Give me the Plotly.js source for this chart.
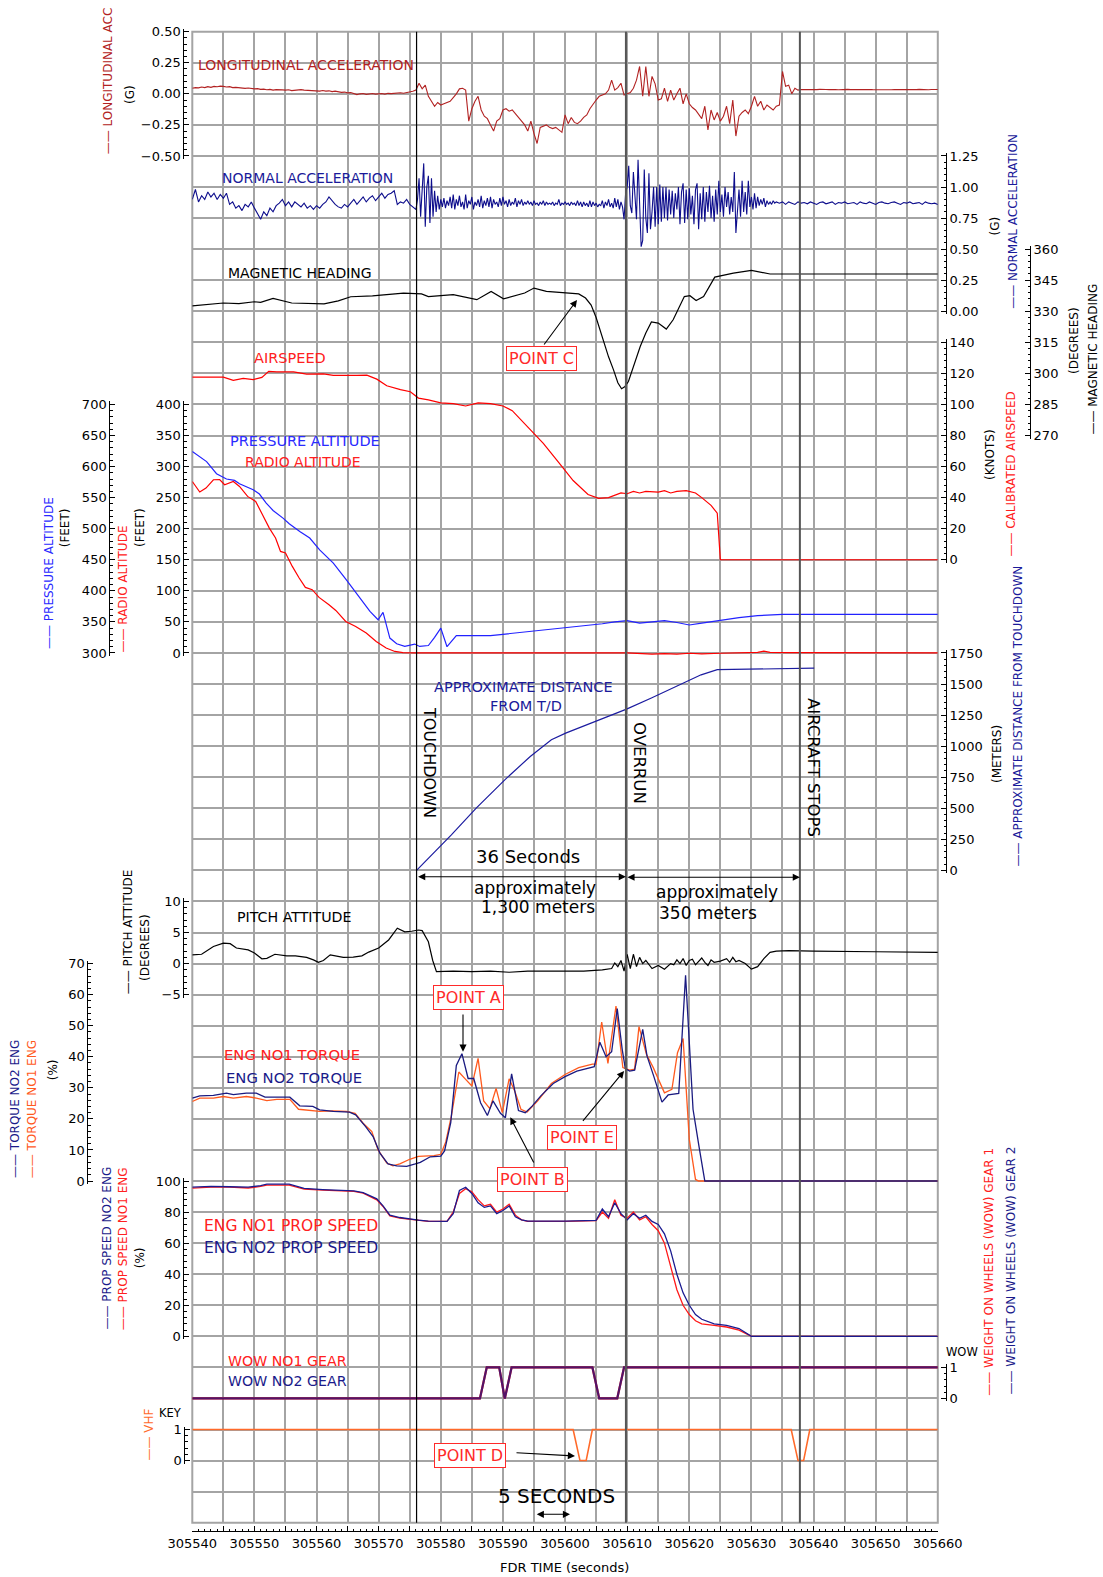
<!DOCTYPE html>
<html><head><meta charset="utf-8">
<script src="https://cdn.plot.ly/plotly-3.0.1.min.js"></script>
<style>html,body{margin:0;padding:0;background:#fff}#chart{width:1103px;height:1577px}</style>
</head><body><div id="chart"></div>
<script>
// ---------------- DATA ----------------
const fdrStart = 305540, fdrEnd = 305660;
const eventTimes = [305576.1, 305609.8, 305637.8]; // touchdown, overrun, aircraft stops
const fiveSecArrow = [305595.2, 305600.8];

// Longitudinal acceleration (G), sampled every 0.5 s from 305540
const longAccStep = 0.5;
const longAccV = [
0.045,0.05,0.048,0.055,0.05,0.058,0.052,0.06,0.057,0.062,
0.06,0.055,0.058,0.05,0.052,0.048,0.05,0.044,0.047,0.042,
0.04,0.042,0.036,0.038,0.033,0.036,0.03,0.034,0.03,0.032,
0.03,0.033,0.026,0.03,0.028,0.034,0.03,0.028,0.025,0.028,
0.026,0.022,0.027,0.022,0.024,0.018,0.022,0.017,0.012,0.014,
0.008,0.01,0,-0.006,0,0.003,-0.004,0,0.003,-0.002,
0,0.003,-0.002,0.004,0.002,0.006,0.004,0.009,0.005,0.01,
0.012,0.02,0.03,0.085,0.04,0.07,-0.02,-0.06,-0.1,-0.07,
-0.09,-0.08,-0.07,-0.06,-0.03,0,0.04,0.045,0.03,-0.22,
-0.12,-0.06,-0.02,-0.13,-0.18,-0.2,-0.25,-0.3,-0.22,-0.2,
-0.13,-0.12,-0.14,-0.13,-0.16,-0.19,-0.22,-0.25,-0.3,-0.22,
-0.32,-0.4,-0.27,-0.26,-0.25,-0.27,-0.28,-0.27,-0.29,-0.31,
-0.17,-0.24,-0.19,-0.23,-0.24,-0.22,-0.19,-0.17,-0.12,-0.08,
-0.05,-0.02,-0.01,0,0.03,0.11,0.03,0.05,0.085,-0.01,
0,0.01,0.045,0.11,0.22,-0.02,0.22,-0.02,0.14,0.08,
-0.05,-0.04,0.045,-0.06,0.03,-0.05,0,0.045,-0.08,0,
-0.08,-0.11,-0.13,-0.17,-0.2,-0.1,-0.29,-0.13,-0.21,-0.15,
-0.22,-0.18,-0.1,-0.24,-0.05,-0.34,-0.18,-0.15,-0.13,-0.16,
-0.1,-0.02,-0.1,-0.06,-0.13,-0.09,-0.11,-0.13,-0.1,-0.09,
0.18,0.06,0.07,0,0.045,0.03,0.035,0.034,0.036,0.034,
0.035,0.034,0.036,0.033,0.035,0.034,0.036,0.035,0.033,0.035,
0.034,0.036,0.034,0.035,0.033,0.035,0.036,0.034,0.035,0.034,
0.033,0.035,0.036,0.034,0.035,0.033,0.034,0.036,0.035,0.034,
0.035,0.033,0.035,0.034,0.036,0.034,0.035,0.033,0.035,0.034,
0.035];

// Normal acceleration (G): segment A 0.5 s from 305540, B 0.25 s from 305576, C 0.5 s from 305634.5
const nAccAStart = 305540, nAccAStep = 0.5;
const nAccA = [
0.9,0.98,0.88,0.93,0.9,0.96,0.92,0.95,0.9,0.94,
0.91,0.95,0.86,0.88,0.83,0.85,0.81,0.86,0.84,0.88,
0.83,0.79,0.74,0.8,0.77,0.83,0.8,0.85,0.87,0.9,
0.85,0.88,0.84,0.88,0.86,0.84,0.87,0.83,0.85,0.82,
0.85,0.83,0.86,0.88,0.92,0.89,0.86,0.84,0.83,0.86,
0.84,0.87,0.9,0.86,0.89,0.92,0.88,0.91,0.93,0.89,
0.92,0.95,0.91,0.94,0.95,0.97,0.86,0.88,0.87,0.9,
0.86,0.84];
const nAccBStart = 305576, nAccBStep = 0.25;
const nAccB = [
0.82,0.9,1.07,0.76, 0.95,1.19,0.68,1.0, 1.09,0.71,1.07,0.76, 0.97,0.8,0.93,0.82,
0.9,0.84,0.91,0.83, 0.89,0.85,0.92,0.83, 0.94,0.82,0.9,0.85, 0.93,0.84,0.88,0.82,
0.94,0.83,0.89,0.86, 0.92,0.82,0.88,0.85, 0.9,0.84,0.93,0.83, 0.89,0.85,0.91,0.84,
0.92,0.83,0.9,0.86, 0.88,0.84,0.91,0.85, 0.92,0.86,0.89,0.84, 0.9,0.85,0.88,0.86,
0.91,0.84,0.89,0.86, 0.9,0.85,0.88,0.86, 0.89,0.86,0.88,0.85, 0.89,0.86,0.87,0.85,
0.88,0.86,0.89,0.85, 0.88,0.86,0.87,0.86, 0.88,0.85,0.87,0.86, 0.9,0.85,0.87,0.86,
0.88,0.86,0.87,0.85, 0.88,0.86,0.87,0.85, 0.89,0.85,0.88,0.84, 0.88,0.85,0.87,0.84,
0.89,0.84,0.88,0.85, 0.87,0.84,0.86,0.85, 0.89,0.83,0.88,0.85, 0.9,0.84,0.87,0.83,
0.91,0.84,0.9,0.82, 0.88,0.84,0.74,0.95, 1.0,1.17,0.85,0.79, 1.12,0.95,0.74,1.22,
0.9,0.52,0.57,1.14, 0.75,0.63,1.11,0.66, 0.8,1.0,0.68,1.0, 0.7,1.02,0.72,1.0,
0.75,1.0,0.73,0.98, 0.78,0.97,0.75,0.95, 0.82,1.0,0.7,0.96, 1.03,0.71,0.98,0.74,
0.99,0.78,0.93,0.7, 0.98,1.03,0.66,0.95, 0.74,1.0,0.72,0.96, 0.8,1.01,0.75,0.93,
0.72,0.98,0.78,1.05, 0.8,0.94,0.76,1.0, 0.84,0.96,0.78,0.92, 0.8,1.12,0.63,0.82,
0.98,0.76,1.05,0.8, 0.96,0.78,1.05,0.84, 0.92,0.82,0.95,0.83, 0.92,0.85,0.9,0.86,
0.91,0.84,0.89,0.86, 0.88,0.86,0.89,0.87, 0.88];
const nAccCStart = 305634.5, nAccCStep = 0.5;
const nAccC = [
0.87,0.88,0.86,0.88,0.87,0.86,0.88,0.87,0.875,0.865,
0.88,0.87,0.86,0.875,0.88,0.865,0.87,0.88,0.86,0.875,
0.87,0.88,0.865,0.87,0.875,0.86,0.88,0.87,0.865,0.88,
0.87,0.86,0.875,0.88,0.87,0.865,0.875,0.88,0.87,0.86,
0.875,0.87,0.88,0.865,0.87,0.875,0.86,0.88,0.87,0.865,
0.87,0.86];

// Magnetic heading (degrees)
const headT = [305540,305542,305545,305547.5,305550,305551,305553,305556,305561.2,305563.5,305565.5,305569,305572,305574,305576.9,305578,305582,305585.8,305588.1,305590.1,305593.5,305595,305597,305600,305602.2,305603.3,305604.2,305605,305606.1,305607,305607.8,305608.5,305609.1,305609.6,305610.2,305611,305612.1,305613,305613.9,305615,305616.3,305617.4,305618.3,305619.2,305620.1,305621.1,305622.3,305623.2,305624.1,305627.1,305630,305633,305660];
const headV = [332.6,333.3,334,333.7,334.6,334.3,336.2,334,333.6,335,337,337.4,338.2,338.8,338.4,337.1,338,335.6,339.6,336,338.8,341.2,339.6,339.1,338.4,336.4,333,327,316.2,308,301.7,295.5,292.6,293.5,296.1,303.5,313,319.5,324.8,324.3,321.4,325.9,331.5,337.1,337.5,335.2,337.1,342,346.5,348.4,349.7,348,348];

// Calibrated airspeed (knots)
const asT = [305540,305542,305543.4,305545,305546.6,305548.2,305549.8,305551.2,305552.3,305553.6,305556.3,305558.4,305561.1,305562.7,305566.5,305568.1,305569.7,305571.3,305573.5,305575.1,305576.4,305578,305580,305582,305584,305586,305588,305590,305591.5,305593.2,305595,305596.5,305598.9,305601.3,305603.7,305605.4,305607,305609,305610,305611,305612,305613,305615,305616,305617,305618,305619.5,305621,305622,305623.5,305624.5,305625,305660];
const asV = [117.6,117.6,118,117.6,115.5,116.8,116,117.4,121.3,121,121,119.5,119.7,118.7,118.7,118.9,116.3,112,109.5,108.2,104.1,103,101,100.5,99,101,100.5,99,96,89,81,75,63,51,42,39.5,40,43,42.5,44,43,44,43.5,44.5,43,44,44.5,43,40,35,30,0,0];

// Pressure altitude (feet)
const paT = [305540,305542.3,305543.9,305545.5,305546.8,305547.6,305549.8,305550.8,305551.9,305553,305554.6,305555.6,305557.3,305558.9,305560.5,305562.7,305564.8,305566.4,305567.5,305568.6,305569.9,305570.7,305571.8,305572.9,305574.2,305575.8,305576.6,305578,305579,305580,305581,305582.5,305585,305588,305590,305592,305595,305598,305600,305603,305606,305608,305610,305612,305614,305616,305618,305620,305622,305625,305628,305631,305635,305660];
const paV = [624.4,608,588.5,580,577.7,572.4,562.7,555.8,541.3,529.4,517,508,495.6,485,466,444.7,417.8,396.4,380.3,366.8,353.4,365.2,324,314.8,310.5,314.3,310.5,312,325,340,310,328,328,328,330,332,335,338,340,343,347,350,352,348,350,352,349,345,348,353,357,360,362,362];

// Radio altitude (feet)
const raT = [305540,305541.2,305542.2,305543.4,305544.4,305545.2,305546.6,305547.6,305548.9,305550.2,305551.3,305552.4,305553.4,305554.2,305555,305556.1,305557.2,305558.2,305559.3,305560.4,305562,305563.1,305564.7,305566.3,305568,305569.6,305571.2,305572.6,305573.9,305576,305610,305612,305614,305616,305618,305620,305622,305625,305628,305631,305632,305633,305636,305645,305650,305655,305660];
const raV = [276,259,265.4,278.8,279,270.8,276,268,252,243.9,222.5,201,185,163.4,160.8,139.3,120.6,105.5,101.8,89.4,77.6,68.4,50.7,42.7,32,18.5,7.9,2.4,0.5,0,0,-1.5,-2,-1,-2,-0.5,-1.5,-0.5,0,1,3,1,0.5,0.5,0,0.5,0];

// Approximate distance from touchdown (meters)
const distT = [305576.1,305581.7,305585.7,305590.3,305594.4,305597.8,305600.1,305603.6,305607,305609.9,305613.9,305617.9,305621.9,305624.5,305627.7,305640.1];
const distV = [0,286,501,729,917,1051,1105,1172,1239,1298,1387,1480,1574,1615,1617,1628];

// Pitch attitude (degrees)
const pitchT = [305540,305541.5,305543.4,305545,305546.1,305547.1,305549,305550,305551.2,305552,
305553.3,305555.2,305556.6,305558.4,305559.5,305560.3,305561.1,305562.2,305564.3,305565.9,
305567.3,305568.4,305570,305571.6,305573,305574.2,305575.3,305576.4,305577,305578,
305578.7,305579.3,305582,305585,305588,305591,305594,305597,305600,305603,
305606,305607.5,305608,305608.5,305609,305609.5,305610,305610.5,305611,305611.5,
305612,305612.5,305613,305614,305615,305616,305617,305617.5,305618,305618.5,
305619,305619.5,305620,305620.5,305621,305621.5,305622,305622.5,305623,305623.5,
305624,305625,305626,305626.5,305627,305627.5,305628,305629,305630,305631,
305632,305633,305634,305636,305640,305650,305660];
const pitchV = [1.4,1.5,2.75,3.3,3.2,2.5,2.2,1.7,0.77,0.85,
1.5,1.25,1.25,1.0,0.6,0.2,0.5,1.4,1.0,1.05,
1.25,1.85,2.5,3.8,5.7,5.1,5.2,5.4,5.3,3.5,
0.5,-1.3,-1.2,-1.3,-1.2,-1.4,-1.2,-1.2,-1.1,-1.2,
-1.0,-0.8,0.1,-0.5,0.5,-1.2,1.5,-0.8,1.5,-0.5,
1.0,0.0,0.5,-0.8,-0.3,-0.9,0.0,-0.2,0.6,0.0,
0.8,-0.3,0.5,0.7,-0.2,0.3,0.9,0.2,-0.3,0.6,
0.2,0.4,0.8,0.2,1.0,0.3,0.5,0.0,-0.9,-0.5,
0.8,1.8,2.0,2.1,2.0,1.9,1.8];

// Engine torque (%)
const tq1T = [305540,305541.2,305543.4,305545,305546.6,305548.7,305550.3,305552,305553.6,305555.7,305557.1,305558.9,305560.5,305562.7,305564.8,305566.2,305567.5,305568.9,305569.9,305571.3,305572.3,305573.4,305575,305576.4,305577.2,305578.9,305580,305580.8,305581.7,305582.9,305584,305585,305586,305586.9,305587.9,305588.9,305589.9,305591,305591.9,305592.9,305593.9,305595.6,305597.8,305600,305602.2,305604.4,305605,305605.9,305606.9,305608.2,305609.3,305610.4,305611.2,305611.9,305613.1,305614.2,305616,305617.2,305618.1,305619,305620,305621,305621.5,305660];
const tq1V = [25.6,26.7,26.7,27.2,26.7,27.2,26.7,25.9,26.3,26.3,23.1,22.7,22.4,22.6,22.4,21.8,18.6,15.9,10,5.8,4.9,5.5,7,7.9,8,8.2,8.6,12.6,20.9,35.1,32.7,30.6,39.5,25.8,23.3,29.8,22,32.9,29,23.1,22.2,25.8,31.4,34.3,36.5,37.6,37.6,51.2,37.9,56.3,36.5,35.7,36,49.7,40.8,36.5,28.4,29.5,41.3,45.9,13.4,0.5,0,0];
const tq2T = [305540,305541.2,305543.4,305545.5,305546.6,305548.7,305550.3,305551.7,305553.6,305555.7,305557.3,305559.4,305560.5,305562.7,305565.3,305566.3,305567.9,305569.1,305570.2,305571.5,305572.9,305574.5,305575.9,305576.7,305578.3,305580,305580.6,305581.6,305582.5,305583.4,305584.4,305585.3,305586.4,305587.5,305588.4,305589.6,305590.4,305591.4,305592.5,305593.6,305594.7,305596.1,305598.1,305600,305601.9,305604.2,305604.7,305605.6,305606.6,305607.5,305608.4,305609.2,305609.7,305610.4,305611.2,305612.5,305613.2,305614.3,305615.6,305616.6,305618.3,305619.4,305620.6,305621.6,305622.5,305660];
const tq2V = [26.7,27.4,27.6,28.3,27.8,28.3,28.3,27,27,27,24.2,24,22.9,22.4,22.2,21.3,17.5,14.3,9,5.5,4.9,4.7,5.5,6,7.8,8,9.7,18.8,37.2,41,33,33,25.2,21.1,25.8,21.8,20.4,34.5,22.7,22,24.1,27.4,31.4,33.6,35.4,36.5,36.8,44.7,40,41.6,55.5,42.4,36.2,35.4,35.7,48.8,40.2,33.6,25.4,27.7,28.2,66.2,23.1,10.7,0,0];

// Prop speed (%)
const propT = [305540,305543,305546,305549,305551,305552,305555.6,305558,305561,305563,305566,305567.5,305569.7,305570.7,305571.8,305573.4,305575,305576.4,305578,305581,305582,305583,305584,305585,305586,305587,305588,305589,305590,305591,305592,305593,305594,305600,305605,305606,305607,305608,305609,305610,305611,305612,305613,305614,305615,305616,305617,305618,305619,305620,305621,305622,305624,305626,305628,305630,305660];
const prop1V = [95.4,96,96,95.5,96.5,97.4,97.4,94.8,94.1,93.7,93.3,92.2,87.9,83.6,77.6,76.1,75.4,74.6,74,74,80,92,95,93,88,84,85,80,82,85,78,75,74,74,74.5,80,76,88,78,76,80,75,77,72,68,60,45,30,20,14,10,8,7,6,4,0,0];
const prop2V = [96,96.5,96.3,96,97,98,98,95.2,94.5,94,93.6,92.5,88.5,84,78,76.5,75.5,74.8,74.2,74,79,94,96,92,86,83,84,79,81,84,77,75,74.2,74.2,74.7,82,77,86,79,75,79,76,78,74,72,66,55,40,28,20,14,11,8,7,5,0,0];

// Weight on wheels (both gear identical) and VHF key
const wowT = [305540,305586.3,305587.4,305589.4,305590.3,305591.4,305604.4,305605.5,305608.4,305609.5,305660];
const wowV = [0,0,1,1,0,1,1,0,0,1,1];
const vhfT = [305540,305601.3,305602.4,305603.4,305604.4,305636.4,305637.5,305638.4,305639.4,305660];
const vhfV = [1,1,0,0,1,1,0,0,1,1];

// ---------------- LAYOUT HELPERS ----------------
const W = 1103, H = 1577;
const plotLeft = 192.3, plotRight = 937.8, plotTop = 31.7, plotBottom = 1522.7;
const rowH = (plotBottom - plotTop) / 48;
const PX = p => p / W;
const PY = p => 1 - p / H;
const EXT = 3;
const GRID = '#a4a4a4';
const GRIDW = 2;
const FONT = 'DejaVu Sans, Verdana, sans-serif';
const xDom = [PX(plotLeft), PX(plotRight)];

function yAxis(kTop, kBot, lo, hi, dtick, minor, posPx, side, fmt) {
  const top = plotTop + kTop * rowH, bot = plotTop + kBot * rowH;
  const pad = (hi - lo) * EXT / (bot - top);
  return {
    domain: [PY(bot + EXT), PY(top - EXT)],
    range: [lo - pad, hi + pad],
    anchor: 'free', position: PX(posPx), side: side,
    showgrid: false, zeroline: false,
    showline: true, linecolor: '#000', linewidth: 1,
    ticks: 'inside', ticklen: 5, tickcolor: '#000', tickwidth: 1,
    tick0: lo, dtick: dtick, tickformat: fmt || 'd',
    minor: {ticks: 'inside', ticklen: 2.5, dtick: minor, tickcolor: '#000', showgrid: false},
    tickfont: {size: 13, color: '#000', family: FONT},
    fixedrange: true
  };
}
const seq = (start, step, arr) => arr.map((_, i) => start + i * step);
function line(x, y, axis, color, width, opacity) {
  return {type: 'scatter', mode: 'lines', x: x, y: y, xaxis: 'x', yaxis: axis,
    line: {color: color, width: width || 1.2}, opacity: opacity || 1, hoverinfo: 'skip', showlegend: false};
}

const nAccT = seq(nAccAStart, nAccAStep, nAccA).concat(seq(nAccBStart, nAccBStep, nAccB), seq(nAccCStart, nAccCStep, nAccC));
const nAccV = nAccA.concat(nAccB, nAccC);

const traces = [
  {type: 'scatter', x: [], y: [], xaxis: 'x', yaxis: 'y', hoverinfo: 'skip', showlegend: false},
  {type: 'scatter', x: [], y: [], xaxis: 'x2', yaxis: 'y', hoverinfo: 'skip', showlegend: false},
  line(seq(fdrStart, longAccStep, longAccV), longAccV, 'y2', '#b22222', 1.1),
  line(nAccT, nAccV, 'y3', '#0d0d8c', 1.1),
  line(headT, headV, 'y4', '#000000', 1.2),
  line(asT, asV, 'y5', '#ff0000', 1.2),
  line(paT, paV, 'y6', '#2222ff', 1.2),
  line(raT, raV, 'y7', '#ff0000', 1.2),
  line(distT, distV, 'y8', '#1c1ca0', 1.2),
  line(pitchT, pitchV, 'y9', '#000000', 1.2),
  line(tq1T, tq1V, 'y10', '#ff5a1e', 1.3),
  line(tq2T, tq2V, 'y10', '#1a1a80', 1.3),
  line(propT, prop1V, 'y11', '#ff1a1a', 1.3),
  line(propT, prop2V, 'y11', '#1a1a90', 1.3),
  line(wowT, wowV, 'y12', '#ff0000', 2.2),
  line(wowT, wowV, 'y12', '#1a1a8a', 2.2, 0.75),
  line(vhfT, vhfV, 'y13', '#ff6a2a', 1.6)
];

const layout = {
  width: W, height: H,
  margin: {l: 0, r: 0, t: 0, b: 0, pad: 0},
  paper_bgcolor: '#ffffff', plot_bgcolor: 'rgba(0,0,0,0)',
  font: {family: FONT, size: 13, color: '#000'},
  showlegend: false,
  xaxis: {domain: xDom, range: [fdrStart, fdrEnd], anchor: 'y', showgrid: false, zeroline: false,
    showline: false, ticks: '', showticklabels: false, fixedrange: true},
  xaxis2: {overlaying: 'x', domain: xDom, range: [fdrStart, fdrEnd], anchor: 'free', position: PY(1531), side: 'bottom',
    showgrid: true, gridcolor: GRID, gridwidth: GRIDW, tick0: fdrStart, dtick: 5, ticklabelstep: 2,
    ticks: 'inside', ticklen: 5, tickcolor: '#000', showline: true, linecolor: '#000', linewidth: 1,
    zeroline: false, tickformat: 'd', tickfont: {size: 13, family: FONT},
    minor: {ticks: 'inside', ticklen: 2.5, dtick: 1, tickcolor: '#000', showgrid: false}, fixedrange: true},
  yaxis: {domain: [PY(plotBottom), PY(plotTop)], range: [0, 48], anchor: 'x', dtick: 1, tick0: 0,
    showgrid: true, gridcolor: GRID, gridwidth: GRIDW, zeroline: false, showline: false, ticks: '',
    showticklabels: false, fixedrange: true},
  yaxis2: yAxis(0, 4, -0.5, 0.5, 0.25, 0.05, 183.3, 'left', '.2f'),
  yaxis3: yAxis(4, 9, 0, 1.25, 0.25, 0.05, 946, 'right', '.2f'),
  yaxis4: yAxis(7, 13, 270, 360, 15, 3, 1030, 'right'),
  yaxis5: yAxis(10, 17, 0, 140, 20, 4, 946, 'right'),
  yaxis6: yAxis(12, 20, 300, 700, 50, 10, 109.3, 'left'),
  yaxis7: yAxis(12, 20, 0, 400, 50, 10, 183.3, 'left'),
  yaxis8: yAxis(20, 27, 0, 1750, 250, 50, 946, 'right'),
  yaxis9: yAxis(28, 31, -5, 10, 5, 1, 183.3, 'left'),
  yaxis10: yAxis(30, 37, 0, 70, 10, 2, 87.3, 'left'),
  yaxis11: yAxis(37, 42, 0, 100, 20, 4, 183.3, 'left'),
  yaxis12: yAxis(43, 44, 0, 1, 1, 0.2, 946, 'right'),
  yaxis13: yAxis(45, 46, 0, 1, 1, 0.2, 184.3, 'left'),
  shapes: [
    {type: 'rect', xref: 'paper', yref: 'paper', x0: PX(plotLeft), x1: PX(plotRight), y0: PY(plotBottom), y1: PY(plotTop),
      line: {color: GRID, width: GRIDW}, layer: 'below'},
    {type: 'line', xref: 'x', yref: 'paper', x0: eventTimes[0], x1: eventTimes[0], y0: PY(plotBottom), y1: PY(plotTop), line: {color: '#000', width: 1.2}},
    {type: 'line', xref: 'x', yref: 'paper', x0: eventTimes[1], x1: eventTimes[1], y0: PY(plotBottom), y1: PY(plotTop), line: {color: '#555', width: 2}},
    {type: 'line', xref: 'x', yref: 'paper', x0: eventTimes[2], x1: eventTimes[2], y0: PY(plotBottom), y1: PY(plotTop), line: {color: '#555', width: 2}}
  ],
  annotations: []
};

const A = layout.annotations;
function txt(text, cx, cy, color, size, angle) {
  A.push({xref: 'paper', yref: 'paper', x: PX(cx), y: PY(cy), xanchor: 'center', yanchor: 'middle',
    text: text, showarrow: false, textangle: angle || 0, font: {family: FONT, size: size || 14.5, color: color || '#000'}});
}
function box(text, cx, cy) {
  A.push({xref: 'paper', yref: 'paper', x: PX(cx), y: PY(cy), xanchor: 'center', yanchor: 'middle',
    text: text, showarrow: false, font: {family: FONT, size: 16, color: '#ff2a2a'},
    bordercolor: '#ff2a2a', borderwidth: 1, borderpad: 2, bgcolor: '#ffffff'});
}
function arrowPx(tipX, tipY, tailX, tailY) {
  A.push({xref: 'paper', yref: 'paper', x: PX(tipX), y: PY(tipY), ax: tailX - tipX, ay: tailY - tipY,
    axref: 'pixel', ayref: 'pixel', text: '', showarrow: true, arrowhead: 2, arrowsize: 1.3, arrowwidth: 1.1,
    arrowcolor: '#000', standoff: 0, startstandoff: 0});
}
function dblArrow(t0, t1, yPx) {
  A.push({xref: 'x', yref: 'paper', x: t1, y: PY(yPx), axref: 'x', ax: t0, ayref: 'pixel', ay: 0,
    text: '', showarrow: true, arrowhead: 2, startarrowhead: 2, arrowside: 'end+start', arrowsize: 1.3,
    startarrowsize: 1.3, arrowwidth: 1.1, arrowcolor: '#000', standoff: 0, startstandoff: 0});
}

// in-plot labels
txt('LONGITUDINAL ACCELERATION', 305.5, 65, '#b22222', 14);
txt('NORMAL ACCELERATION', 307, 178, '#1a1a9a', 14);
txt('MAGNETIC HEADING', 300, 273, '#000', 14);
txt('AIRSPEED', 289.5, 357.7, '#ff2020', 14.5);
txt('PRESSURE ALTITUDE', 304.5, 440.7, '#2a2aff', 14.5);
txt('RADIO ALTITUDE', 303.5, 461.7, '#ff2020', 14);
txt('APPROXIMATE DISTANCE', 523, 686.7, '#1a1a9a', 14.5);
txt('FROM T/D', 526, 706, '#1a1a9a', 14.5);
txt('TOUCHDOWN', 430, 762, '#000', 16, 90);
txt('OVERRUN', 640, 763, '#000', 16.5, 90);
txt('AIRCRAFT STOPS', 814, 767, '#000', 16.5, 90);
txt('36 Seconds', 528, 856, '#000', 18);
txt('approximately', 535, 888, '#000', 17);
txt('1,300 meters', 538, 906.7, '#000', 17);
txt('approximately', 717, 891.7, '#000', 17);
txt('350 meters', 708, 912.7, '#000', 17);
txt('PITCH ATTITUDE', 294, 916.7, '#000', 14.2);
txt('ENG NO1 TORQUE', 292, 1054, '#ff2020', 14.8);
txt('ENG NO2 TORQUE', 294, 1077, '#1a1a8a', 14.8);
txt('ENG NO1 PROP SPEED', 290.5, 1226, '#ff2020', 15.5);
txt('ENG NO2 PROP SPEED', 290.5, 1248.3, '#1a1a8a', 15.5);
txt('WOW NO1 GEAR', 287, 1361, '#ff2020', 14.2);
txt('WOW NO2 GEAR', 287, 1380.7, '#1a1a8a', 14.2);
txt('5 SECONDS', 556, 1495.7, '#000', 20);
txt('FDR TIME (seconds)', 564, 1567.7, '#000', 13);

// point boxes + arrows
box('POINT A', 468.7, 997.2);  arrowPx(463, 1051.7, 463, 1013);
box('POINT B', 532.2, 1179.5); arrowPx(510.3, 1117.3, 534.5, 1164);
box('POINT E', 581.9, 1137.5); arrowPx(624.1, 1071, 581.7, 1122.3);
box('POINT C', 541, 358);      arrowPx(577, 300, 543, 346);
box('POINT D', 470, 1455.8);   arrowPx(575, 1456, 515, 1452.7);
dblArrow(eventTimes[0], eventTimes[1], 876.8);
dblArrow(eventTimes[1], eventTimes[2], 877.3);
dblArrow(fiveSecArrow[0], fiveSecArrow[1], 1514.3);

// axis titles, left side
txt('—— LONGITUDINAL ACC', 108, 81.3, '#b22222', 12, -90);
txt('(G)', 130, 95, '#000', 12, -90);
txt('—— PRESSURE ALTITUDE', 48.3, 572.7, '#2a2aff', 12, -90);
txt('(FEET)', 65, 528.3, '#000', 12, -90);
txt('—— RADIO ALTITUDE', 122.7, 588.8, '#ff2020', 12, -90);
txt('(FEET)', 140, 528, '#000', 12, -90);
txt('—— PITCH ATTITUDE', 127.7, 931.5, '#000', 12, -90);
txt('(DEGREES)', 145, 948, '#000', 12, -90);
txt('—— TORQUE NO2 ENG', 15, 1109, '#1a1a8a', 12, -90);
txt('—— TORQUE NO1 ENG', 32.3, 1109, '#ff5a1e', 12, -90);
txt('(%)', 53.3, 1070, '#000', 12, -90);
txt('—— PROP SPEED NO2 ENG', 106, 1248.5, '#1a1a8a', 12, -90);
txt('—— PROP SPEED NO1 ENG', 122.7, 1248.5, '#ff2020', 12, -90);
txt('(%)', 140, 1258.3, '#000', 12, -90);
txt('—— VHF', 149.3, 1434.3, '#ff6a2a', 12, -90);
txt('KEY', 170.5, 1413, '#000', 11.5);
// axis titles, right side
txt('(G)', 995, 226.4, '#000', 12, -90);
txt('—— NORMAL ACCELERATION', 1013, 221.8, '#1a1a9a', 12, -90);
txt('(DEGREES)', 1073.3, 340.7, '#000', 12, -90);
txt('—— MAGNETIC HEADING', 1093.3, 359.3, '#000', 12, -90);
txt('(KNOTS)', 990, 455, '#000', 12, -90);
txt('—— CALIBRATED AIRSPEED', 1011, 474.6, '#ff2020', 12, -90);
txt('(METERS)', 997, 754, '#000', 12, -90);
txt('—— APPROXIMATE DISTANCE FROM TOUCHDOWN', 1017, 716.5, '#1a1a9a', 12, -90);
txt('WOW', 962, 1352, '#000', 11.5);
txt('—— WEIGHT ON WHEELS (WOW) GEAR 1', 988.3, 1271.5, '#ff2020', 12, -90);
txt('—— WEIGHT ON WHEELS (WOW) GEAR 2', 1010, 1270.5, '#1a1a8a', 12, -90);

Plotly.newPlot('chart', traces, layout, {staticPlot: true, displayModeBar: false});
</script>
</body></html>
